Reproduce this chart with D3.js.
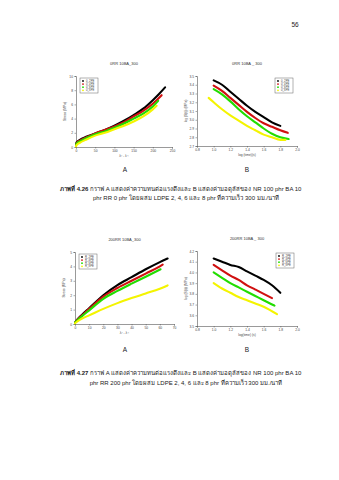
<!DOCTYPE html>
<html><head><meta charset="utf-8">
<script src="https://cdn.jsdelivr.net/npm/d3@7/dist/d3.min.js"></script>
<style>
html,body{margin:0;padding:0;background:#fff;}
svg{display:block;font-family:"Liberation Sans",Arial,sans-serif;}
</style></head><body>
<svg id="page" width="339" height="480"></svg>
<script>
// ---------- data ----------
const seriesColors = ["#000000", "#d01010", "#22dd00", "#f4f400"];
const legendTop = ["0_2PE", "0_4PE", "0_6PE", "0_8PE"];
const legendBottom = ["R_2PE", "R_4PE", "R_6PE", "R_8PE"];

// Chart A (top): stress vs strain function, RR 0 phr
const A1_x = [
  [0,2,10,25,50,75,100,125,150,175,200,215,232],
  [0,2,10,25,50,75,100,125,150,175,200,223],
  [0,2,10,25,50,75,100,125,150,175,200,214],
  [0,2,10,25,50,75,100,125,150,175,200,210]
];
const A1_y = [
  [0.4,0.7,1.0,1.4,1.9,2.4,3.0,3.7,4.5,5.4,6.6,7.4,8.4],
  [0.3,0.6,0.9,1.3,1.9,2.4,2.9,3.5,4.3,5.1,6.1,7.3],
  [0.3,0.5,0.8,1.2,1.8,2.2,2.7,3.3,4.0,4.7,5.7,6.5],
  [0.1,0.3,0.6,1.0,1.6,2.0,2.5,3.0,3.6,4.3,5.3,5.8]
];
const A1_xticks = [0,50,100,150,200,250];
const A1_yticks = [0,2,4,6,8,10];

// Chart B (top): log stress vs log time, RR 0 phr
const B1_x = [
  [1.0,1.1,1.2,1.3,1.4,1.5,1.6,1.7,1.8],
  [1.0,1.1,1.2,1.3,1.4,1.5,1.6,1.7,1.8,1.89],
  [1.0,1.1,1.2,1.3,1.4,1.5,1.6,1.7,1.8,1.9],
  [0.94,1.0,1.1,1.2,1.3,1.4,1.5,1.6,1.7,1.8,1.86]
];
const B1_y = [
  [3.45,3.40,3.32,3.24,3.16,3.09,3.03,2.97,2.93],
  [3.39,3.33,3.25,3.17,3.09,3.02,2.96,2.92,2.88,2.85],
  [3.35,3.29,3.21,3.12,3.04,2.97,2.90,2.84,2.80,2.78],
  [3.25,3.20,3.12,3.05,2.99,2.93,2.88,2.83,2.80,2.77,2.77]
];
const B1_xticks = [0.8,1.0,1.2,1.4,1.6,1.8,2.0];
const B1_yticks = [2.7,2.8,2.9,3.0,3.1,3.2,3.3,3.4,3.5];

// Chart A (bottom): RR 200 phr
const A2_x = [
  [0,2,5,10,20,30,40,50,60,65.5],
  [0,2,5,10,20,30,40,50,60,62],
  [0,2,5,10,20,30,40,50,60.5],
  [0,2,5,10,20,30,40,50,60,65.5]
];
const A2_y = [
  [0.1,0.35,0.65,1.1,2.0,2.7,3.25,3.8,4.3,4.55],
  [0.1,0.33,0.6,1.05,1.9,2.5,3.0,3.5,4.0,4.12],
  [0.1,0.3,0.55,0.95,1.75,2.3,2.8,3.28,3.8],
  [0.05,0.2,0.38,0.6,1.05,1.45,1.8,2.12,2.45,2.68]
];
const A2_xticks = [0,10,20,30,40,50,60,70];
const A2_yticks = [0,1,2,3,4,5];

// Chart B (bottom): RR 200 phr
const B2_x = [
  [1.0,1.1,1.2,1.3,1.4,1.5,1.6,1.7,1.8],
  [1.0,1.1,1.2,1.3,1.4,1.5,1.6,1.7],
  [1.0,1.1,1.2,1.3,1.4,1.5,1.6,1.73],
  [1.0,1.1,1.2,1.3,1.4,1.5,1.6,1.76]
];
const B2_y = [
  [4.13,4.10,4.07,4.05,4.01,3.97,3.93,3.88,3.81],
  [4.07,4.02,3.97,3.93,3.88,3.84,3.80,3.76],
  [4.00,3.95,3.90,3.86,3.82,3.78,3.74,3.69],
  [3.90,3.85,3.81,3.77,3.74,3.71,3.68,3.61]
];
const B2_xticks = [0.8,1.0,1.2,1.4,1.6,1.8,2.0];
const B2_yticks = [3.5,3.6,3.7,3.8,3.9,4.0,4.1,4.2];

const titles = ["0RR 10BA_300", "0RR 10BA _ 300", "200RR 10BA_300", "200RR 10BA _ 300"];
const captionTop = ["กราฟ A แสดงค่าความทนต่อแรงดึงและ B แสดงค่ามอดุลัสของ NR 100 phr BA 10",
                    "phr RR 0 phr โดยผสม LDPE 2, 4, 6 และ 8 phr ที่ความเร็ว 300 มม./นาที"];
const captionBottom = ["กราฟ A แสดงค่าความทนต่อแรงดึงและ B แสดงค่ามอดุลัสของ NR 100 phr BA 10",
                       "phr RR 200 phr โดยผสม LDPE 2, 4, 6 และ 8 phr ที่ความเร็ว 300 มม./นาที"];

// ---------- drawing ----------
const svg = d3.select("#page");

function fmt(v, dec){ return dec === 0 ? String(v) : v.toFixed(dec); }

function chart(cfg){
  const x = d3.scaleLinear().domain(cfg.xdom).range([cfg.x0, cfg.x1]);
  const y = d3.scaleLinear().domain(cfg.ydom).range([cfg.y1, cfg.y0]);
  const g = svg.append("g");
  const xa = d3.axisBottom(x).tickValues(cfg.xticks).tickSize(1.5).tickPadding(1.5)
      .tickFormat(d => fmt(d, cfg.xdec));
  const ya = d3.axisLeft(y).tickValues(cfg.yticks).tickSize(1.5).tickPadding(1.5)
      .tickFormat(d => fmt(d, cfg.ydec));
  const gx = g.append("g").attr("transform", `translate(0,${cfg.y1})`).call(xa);
  const gy = g.append("g").attr("transform", `translate(${cfg.x0},0)`).call(ya);
  [gx, gy].forEach(a => {
    a.selectAll("path").attr("stroke", "#555").attr("stroke-width", 0.6);
    a.selectAll("line").attr("stroke", "#555").attr("stroke-width", 0.5);
    a.selectAll("text").attr("font-size", 3.3).attr("fill", "#444");
  });
  const line = d3.line().x(d => x(d[0])).y(d => y(d[1])).curve(d3.curveMonotoneX);
  cfg.xs.forEach((xs, i) => {
    const pts = xs.map((v, j) => [v, cfg.ys[i][j]]);
    g.append("path").attr("d", line(pts)).attr("fill", "none")
      .attr("stroke", seriesColors[i]).attr("stroke-width", 2.1)
      .attr("stroke-linecap", "round");
  });
  g.append("text").attr("x", (cfg.x0 + cfg.x1) / 2).attr("y", cfg.y0 - 11)
    .attr("text-anchor", "middle").attr("font-size", 4).attr("fill", "#333").text(cfg.title);
  g.append("text").attr("x", (cfg.x0 + cfg.x1) / 2).attr("y", cfg.y1 + 10)
    .attr("text-anchor", "middle").attr("font-size", 3.3).attr("fill", "#444").text(cfg.xlabel);
  g.append("text").attr("transform", `translate(${cfg.x0 - 10},${(cfg.y0 + cfg.y1) / 2}) rotate(-90)`)
    .attr("text-anchor", "middle").attr("font-size", 3.3).attr("fill", "#444").text(cfg.ylabel);
  const lg = g.append("g").attr("transform", `translate(${cfg.lx},${cfg.ly})`);
  lg.append("rect").attr("width", 18).attr("height", 15).attr("fill", "#fff")
    .attr("stroke", "#666").attr("stroke-width", 0.5);
  cfg.legend.forEach((t, i) => {
    lg.append("circle").attr("cx", 3).attr("cy", 3 + i * 3.1).attr("r", 0.9).attr("fill", seriesColors[i]);
    lg.append("text").attr("x", 6).attr("y", 4.1 + i * 3.1).attr("font-size", 2.8)
      .attr("fill", "#444").text(t);
  });
}

chart({x0:76, x1:172, y0:76, y1:147, xdom:[0,250], ydom:[0,10], xticks:A1_xticks, yticks:A1_yticks,
  xdec:0, ydec:0, xs:A1_x, ys:A1_y, title:titles[0], xlabel:"λ² - λ⁻¹", ylabel:"Stress (MPa)",
  lx:80, ly:78, legend:legendTop});
chart({x0:197, x1:297, y0:76, y1:146, xdom:[0.8,2.0], ydom:[2.7,3.5], xticks:B1_xticks, yticks:B1_yticks,
  xdec:1, ydec:1, xs:B1_x, ys:B1_y, title:titles[1], xlabel:"log (time)(s)", ylabel:"log (S(t)) (MPa)",
  lx:275, ly:78, legend:legendTop});
chart({x0:75, x1:174, y0:252, y1:324, xdom:[0,70], ydom:[0,5], xticks:A2_xticks, yticks:A2_yticks,
  xdec:0, ydec:0, xs:A2_x, ys:A2_y, title:titles[2], xlabel:"λ² - λ⁻¹", ylabel:"Stress (MPa)",
  lx:79, ly:254, legend:legendBottom});
chart({x0:197, x1:297, y0:251, y1:326, xdom:[0.8,2.0], ydom:[3.5,4.2], xticks:B2_xticks, yticks:B2_yticks,
  xdec:1, ydec:1, xs:B2_x, ys:B2_y, title:titles[3], xlabel:"log(time) (s)", ylabel:"log (S(t)) (MPa)",
  lx:276, ly:253, legend:legendBottom});

svg.append("text").attr("x", 295).attr("y", 27).attr("text-anchor", "middle")
  .attr("font-size", 6.5).attr("fill", "#222").text("56");

[[125,172],[247,172],[125,352],[247,352]].forEach((p, i) => {
  svg.append("text").attr("x", p[0]).attr("y", p[1]).attr("text-anchor", "middle")
    .attr("font-size", 6.5).attr("fill", "#222").text(i % 2 === 0 ? "A" : "B");
});

function caption(y1, y2, num, lines){
  const t = svg.append("text").attr("x", 60).attr("y", y1).attr("font-size", 6.0).attr("fill", "#222");
  t.append("tspan").attr("font-weight", "bold").text("ภาพที่ " + num + " ");
  t.append("tspan").text(lines[0]);
  svg.append("text").attr("x", 186).attr("y", y2).attr("text-anchor", "middle")
    .attr("font-size", 6.0).attr("fill", "#222").text(lines[1]);
}
caption(191, 200, "4.26", captionTop);
caption(375, 385, "4.27", captionBottom);
</script>
</body></html>
